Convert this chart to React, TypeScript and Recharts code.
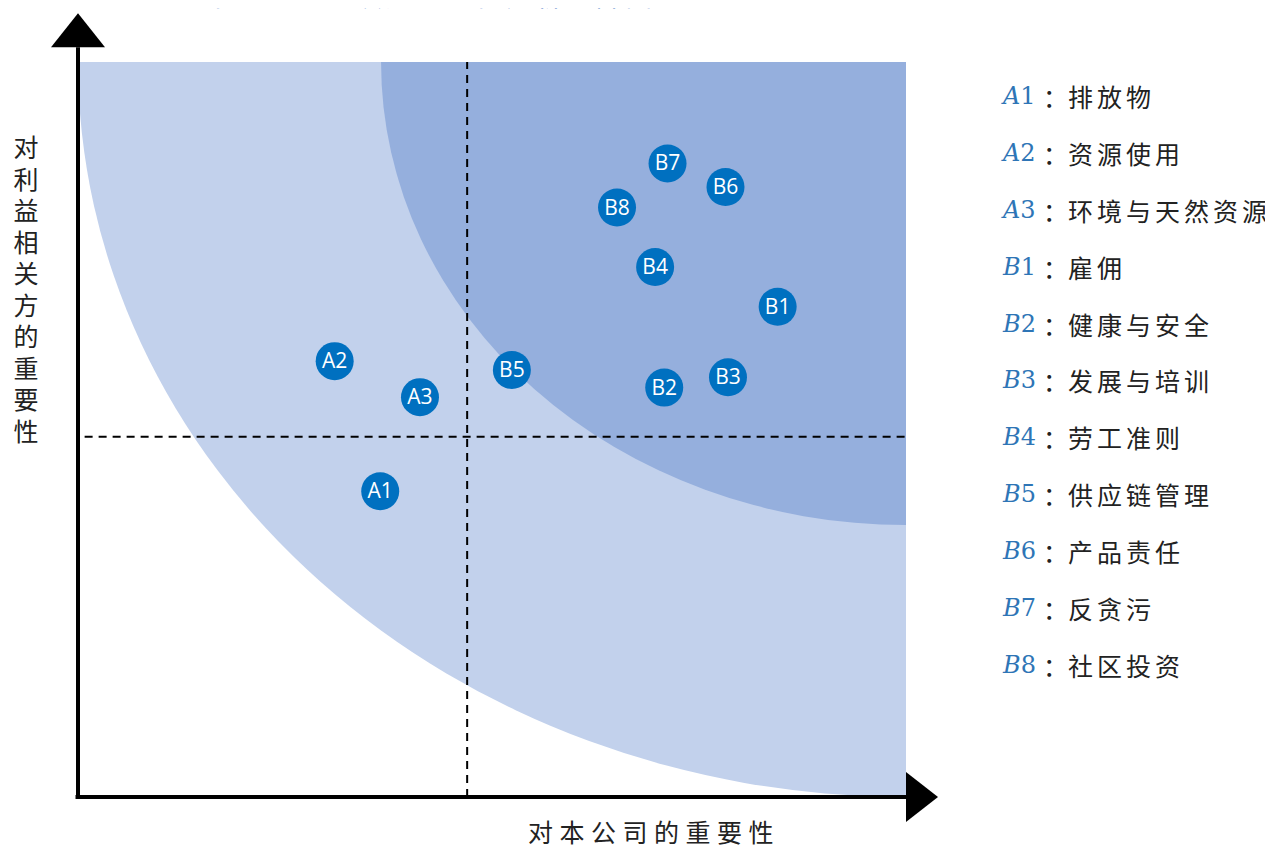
import React from 'react'
import { ScatterChart, Scatter, XAxis, YAxis, ReferenceArea, ReferenceLine, ReferenceDot } from 'recharts'

// 议题编号、两个维度的得分 (0-10)
const codes = ['A1', 'A2', 'A3', 'B1', 'B2', 'B3', 'B4', 'B5', 'B6', 'B7', 'B8']
const companyScore = [3.65, 3.1, 4.13, 8.45, 7.08, 7.85, 6.97, 5.24, 7.82, 7.12, 6.51]
const stakeholderScore = [4.16, 5.93, 5.44, 6.67, 5.57, 5.71, 7.21, 5.81, 8.3, 8.62, 8.02]
const topicNames = ['排放物', '资源使用', '环境与天然资源', '雇佣', '健康与安全', '发展与培训', '劳工准则', '供应链管理', '产品责任', '反贪污', '社区投资']

const xThreshold = 4.7
const yThreshold = 4.9
const innerZoneX = 3.66
const innerZoneY = 3.7

const title = '本公司ESG议题重要性分析矩阵图'
const xLabel = '对本公司的重要性'
const yLabel = '对利益相关方的重要性'

const points = codes.map((c, i) => ({ code: c, x: companyScore[i], y: stakeholderScore[i] }))

const cjk = '"Noto Sans CJK SC", "Noto Sans", sans-serif'

// quarter ellipse, centre at the top-right corner of the area
const QuarterZone = (fill: string) => (props: any) => {
  const { x, y, width, height } = props
  const d = `M${x},${y} L${x + width},${y} L${x + width},${y + height} A${width},${height} 0 0 1 ${x},${y} Z`
  return <path d={d} fill={fill} />
}

const ArrowUp = (props: any) => {
  const { cx, cy } = props
  return <path d={`M${cx - 27},${cy} L${cx + 27},${cy} L${cx},${cy - 34} Z`} fill="#000" />
}

const ArrowRight = (props: any) => {
  const { cx, cy } = props
  return <path d={`M${cx},${cy - 25} L${cx},${cy + 25} L${cx + 32},${cy} Z`} fill="#000" />
}

const Bubble = (props: any) => {
  const { cx, cy, payload } = props
  return (
    <g>
      <circle cx={cx} cy={cy} r={19} fill="#0070C0" />
      <text x={cx} y={cy + 7} textAnchor="middle" fill="#fff" fontSize={21} fontFamily='"Open Sans", sans-serif'>
        {payload.code}
      </text>
    </g>
  )
}

const App = () => {
  return (
    <div style={{ position: 'relative', width: 1265, height: 840 }}>
      <div style={{ position: 'absolute', left: 197, top: -28, fontFamily: cjk, fontSize: 26, lineHeight: '30px', color: '#4472C4', letterSpacing: 4, whiteSpace: 'nowrap' }}>
        {title}
      </div>
      <ScatterChart width={1265} height={840} margin={{ top: 54, right: 367, bottom: 51, left: 70 }}>
        <XAxis type="number" dataKey="x" domain={[0, 10]} hide />
        <YAxis type="number" dataKey="y" domain={[0, 10]} hide />
        <ReferenceArea x1={0} x2={10} y1={0} y2={10} shape={QuarterZone('#C2D1EC')} />
        <ReferenceArea x1={innerZoneX} x2={10} y1={innerZoneY} y2={10} shape={QuarterZone('#95AFDD')} />
        <ReferenceLine x={xThreshold} stroke="#000" strokeWidth={2} strokeDasharray="8 6" />
        <ReferenceLine segment={[{ x: 0.08, y: yThreshold }, { x: 10, y: yThreshold }]} stroke="#000" strokeWidth={2} strokeDasharray="8 6" />
        <ReferenceLine segment={[{ x: 0, y: -0.01 }, { x: 0, y: 10.2 }]} stroke="#000" strokeWidth={4} ifOverflow="visible" />
        <ReferenceLine segment={[{ x: -0.03, y: 0 }, { x: 10, y: 0 }]} stroke="#000" strokeWidth={4} ifOverflow="visible" />
        <ReferenceDot x={0} y={10.2} shape={ArrowUp} ifOverflow="visible" />
        <ReferenceDot x={10} y={0} shape={ArrowRight} ifOverflow="visible" />
        <Scatter data={points} shape={Bubble} isAnimationActive={false} />
      </ScatterChart>
      <div style={{ position: 'absolute', left: 0, top: 127, width: 36, fontFamily: cjk, fontSize: 25, lineHeight: '36px', color: '#222', writingMode: 'vertical-rl', textOrientation: 'upright', letterSpacing: 6.5, whiteSpace: 'nowrap' }}>
        {yLabel}
      </div>
      <div style={{ position: 'absolute', left: 520, top: 809, fontFamily: cjk, fontSize: 25, lineHeight: '28px', color: '#222', letterSpacing: 6.5, whiteSpace: 'nowrap' }}>
        {xLabel}
      </div>
      <div style={{ position: 'absolute', left: 995, top: 60, whiteSpace: 'nowrap' }}>
        {codes.map((c, i) => (
          <div key={c} style={{ height: 56.9, lineHeight: '56.9px', display: 'flex', alignItems: 'center' }}>
            <span style={{ fontFamily: '"DejaVu Serif", serif', fontSize: 24, color: '#2E75B6', width: 40 }}>
              <i>{c[0]}</i>{c[1]}
            </span>
            <span style={{ fontFamily: cjk, fontSize: 25, color: '#222' }}>：</span>
            <span style={{ fontFamily: cjk, fontSize: 25, color: '#222', letterSpacing: 4 }}>{topicNames[i]}</span>
          </div>
        ))}
      </div>
    </div>
  )
}

export default App
